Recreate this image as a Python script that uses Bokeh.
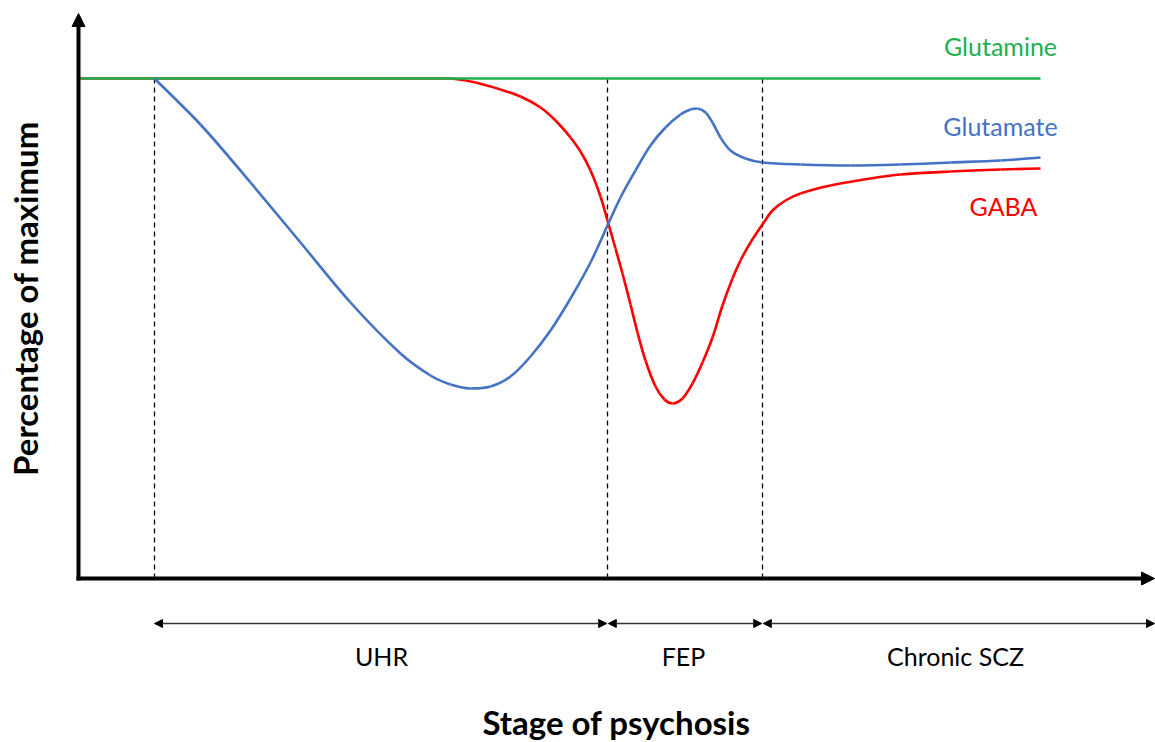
from bokeh.plotting import figure
from bokeh.models import Range1d, Arrow, NormalHead, Label
from bokeh.embed import file_html
from bokeh.resources import INLINE
import math

# ---------------- data ----------------
# stage (arbitrary time units) and percentage of maximum
stage_bounds = [7.6, 52.9, 68.4]
stage_labels = ["UHR", "FEP", "Chronic SCZ"]
stage_end = 107.6

glutamine_x = [0.2, 96.2]
glutamine_y = [100.0, 100.0]

glutamate_x = [7.6, 12.2, 17.2, 22.2, 27.2, 32.2, 35.2, 37.2, 39.2, 41.2, 43.2, 45.2,
               47.2, 49.2, 51.2, 52.9, 54.2, 55.7, 57.2, 58.7, 60.2, 61.2, 61.9, 62.7,
               63.4, 64.2, 65.2, 66.7, 68.4, 72.2, 77.2, 82.2, 87.2, 92.2, 96.2]
glutamate_y = [100.0, 90.8, 79.2, 67.2, 55.2, 45.0, 40.6, 38.8, 38.0, 38.4, 40.4, 44.4,
               49.6, 56.0, 63.2, 70.6, 76.2, 81.6, 86.6, 90.2, 92.8, 93.8, 94.0, 93.2,
               91.2, 88.2, 85.6, 84.0, 83.2, 82.8, 82.6, 82.8, 83.2, 83.6, 84.2]

gaba_x = [0.2, 30.2, 37.2, 39.7, 42.2, 44.2, 46.2, 47.7, 49.2, 50.2, 51.2, 52.2,
          52.9, 53.7, 54.4, 55.2, 55.9, 56.7, 57.7, 58.6, 59.4, 60.4, 61.4, 62.4,
          63.4, 64.4, 65.4, 66.2, 67.2, 68.4, 69.4, 70.7, 72.2, 75.2, 79.2, 82.2,
          87.2, 92.2, 96.2]
gaba_y = [100.0, 100.0, 100.0, 99.2, 97.8, 96.4, 94.2, 91.6, 88.2, 85.4, 81.6, 76.4,
          71.6, 66.0, 61.0, 54.8, 49.2, 43.6, 38.4, 35.8, 35.0, 36.0, 39.0, 43.2,
          48.2, 54.6, 60.0, 63.6, 67.2, 70.8, 73.6, 75.6, 77.0, 78.6, 80.0, 80.8,
          81.4, 81.8, 82.0]

series_names = ["Glutamine", "Glutamate", "GABA"]
GREEN = "#1DB04E"
BLUE = "#4472C4"
RED = "#FF0000"

FONT = "Lato"

# ---------------- figure ----------------
W, H = 1155, 742
p = figure(width=W, height=H, output_backend="svg", toolbar_location=None,
           x_range=Range1d(-7.8, 107.7), y_range=Range1d(-32.8, 115.6),
           x_axis_location=None, y_axis_location=None,
           min_border=0, min_border_left=0, min_border_right=0,
           min_border_top=0, min_border_bottom=0)
p.outline_line_color = None
p.grid.visible = False
p.background_fill_color = "white"

XS, YS = 10.0, 5.0  # pixels per unit (used for isotropic smoothing only)


def dx(X):  # page pixel -> stage units (layout helper)
    return (X - 78) / XS


def dy(Y):  # page pixel -> percent (layout helper)
    return (578 - Y) / YS


def smooth(fig, xs, ys, **kw):
    """Draw a smoothed line through the data points (chord-length Catmull-Rom as
    Beziers, with control points clamped so each segment stays monotone)."""
    n = len(xs)

    def dist(i, j):
        return math.hypot((xs[j] - xs[i]) * XS, (ys[j] - ys[i]) * YS)

    x0, y0, x1, y1, cx0, cy0, cx1, cy1 = [], [], [], [], [], [], [], []
    for i in range(n - 1):
        a, b, c, d = max(i - 1, 0), i, i + 1, min(i + 2, n - 1)
        dab, dbc, dcd = dist(a, b), dist(b, c), dist(c, d)
        f1 = dbc / (dab + dbc) / 3.0 if dab + dbc > 0 else 0
        f2 = dbc / (dbc + dcd) / 3.0 if dbc + dcd > 0 else 0
        lo, hi = min(ys[b], ys[c]), max(ys[b], ys[c])
        x0.append(xs[b]); y0.append(ys[b]); x1.append(xs[c]); y1.append(ys[c])
        cx0.append(xs[b] + (xs[c] - xs[a]) * f1)
        cy0.append(min(max(ys[b] + (ys[c] - ys[a]) * f1, lo), hi))
        cx1.append(xs[c] - (xs[d] - xs[b]) * f2)
        cy1.append(min(max(ys[c] - (ys[d] - ys[b]) * f2, lo), hi))
    fig.bezier(x0=x0, y0=y0, x1=x1, y1=y1, cx0=cx0, cy0=cy0, cx1=cx1, cy1=cy1, **kw)


# dashed stage boundaries
for b in stage_bounds:
    p.line([b, b], [0, 100], line_color="black", line_width=1.3, line_dash="5 4")

# curves
smooth(p, gaba_x, gaba_y, line_color=RED, line_width=2.6)
p.line(glutamine_x, glutamine_y, line_color=GREEN, line_width=2.6)
smooth(p, glutamate_x, glutamate_y, line_color=BLUE, line_width=2.6)

# main axes as arrows
p.add_layout(Arrow(end=NormalHead(size=13, fill_color="black", line_color="black", line_width=1),
                   x_start=0, y_start=dy(580), x_end=0, y_end=dy(13),
                   line_color="black", line_width=4))
p.add_layout(Arrow(end=NormalHead(size=13, fill_color="black", line_color="black", line_width=1),
                   x_start=dx(76), y_start=0, x_end=dx(1154), y_end=0,
                   line_color="black", line_width=4))

# stage arrows
starts = stage_bounds
ends = stage_bounds[1:] + [stage_end]
arrow_y = dy(623)
for i, (a, b) in enumerate(zip(starts, ends)):
    s = a + (0.08 if i > 0 else 0)
    e = b - (0.08 if i < 2 else 0)
    p.add_layout(Arrow(start=NormalHead(size=8, fill_color="black", line_color="black", line_width=1),
                       end=NormalHead(size=8, fill_color="black", line_color="black", line_width=1),
                       x_start=s, y_start=arrow_y, x_end=e, y_end=arrow_y,
                       line_color="#333333", line_width=1.6))

# text baseline correction (rendered glyphs sit ~10px below the requested baseline)
OFF = 10

# stage labels
label_x = [dx(381), dx(683), dx(955)]
for lx, t in zip(label_x, stage_labels):
    p.add_layout(Label(x=lx, y=dy(665 - OFF), text=t, text_font=FONT, text_font_size="25px",
                       text_align="center", text_baseline="alphabetic", text_color="black"))

# series labels
series_pos = [(dx(1000), dy(55 - OFF), GREEN), (dx(1000), dy(135 - OFF), BLUE),
              (dx(1003), dy(215 - OFF), RED)]
for (lx, ly, c), t in zip(series_pos, series_names):
    p.add_layout(Label(x=lx, y=ly, text=t, text_font=FONT, text_font_size="25px",
                       text_align="center", text_baseline="alphabetic", text_color=c))

# axis titles
p.add_layout(Label(x=dx(616), y=dy(731 - OFF), text="Stage of psychosis", text_font=FONT,
                   text_font_size="33px", text_font_style="bold",
                   text_align="center", text_baseline="alphabetic", text_color="black"))
p.add_layout(Label(x=dx(37 - 13), y=dy(298), text="Percentage of maximum", text_font=FONT,
                   text_font_size="33px", text_font_style="bold", angle=math.pi / 2,
                   text_align="center", text_baseline="alphabetic", text_color="black"))

open("out.html", "w").write(file_html(p, INLINE))
